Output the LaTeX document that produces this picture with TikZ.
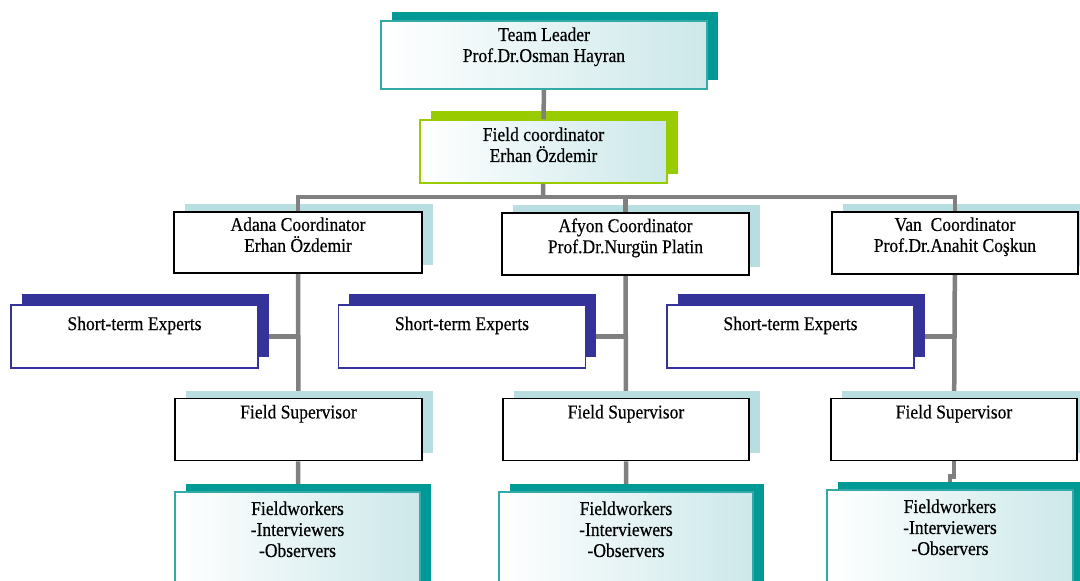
\documentclass[tikz,border=0pt]{standalone}
\usepackage{fontspec}
\setmainfont{Liberation Serif}[FakeStretch=0.9,FakeBold=0.4]
\usetikzlibrary{shadows,backgrounds,calc}

\definecolor{tealdark}{RGB}{0,153,150}
\definecolor{tealline}{RGB}{50,170,168}
\definecolor{limedark}{RGB}{153,204,0}
\definecolor{palecyan}{RGB}{188,224,227}
\definecolor{iceblue}{RGB}{185,222,225}
\definecolor{navyblue}{RGB}{51,51,153}
\definecolor{linkgray}{RGB}{128,128,128}

\begin{document}
\begin{tikzpicture}[x=1pt,y=-1pt,
  txt/.style={anchor=north,align=center,inner sep=0pt,font=\fontsize{19.5}{21}\selectfont},
  orgbox/.style={inner sep=0pt,minimum width=247pt,minimum height=62pt},
  leaderbox/.style={orgbox,draw=tealline,line width=1.5pt,left color=white,right color=palecyan!75,
    drop shadow={shadow xshift=11pt,shadow yshift=9pt,fill=tealdark,opacity=1}},
  fieldbox/.style={orgbox,draw=limedark,line width=1.5pt,left color=white,right color=palecyan!75,
    drop shadow={shadow xshift=11pt,shadow yshift=9pt,fill=limedark,opacity=1}},
  coordbox/.style={orgbox,draw=black,fill=white,line width=1.6pt,
    drop shadow={shadow xshift=11pt,shadow yshift=8pt,fill=iceblue,opacity=1}},
  expertbox/.style={orgbox,draw=navyblue,fill=white,line width=1.3pt,
    drop shadow={shadow xshift=10.5pt,shadow yshift=11pt,fill=navyblue,opacity=1}},
  workerbox/.style={orgbox,draw=tealline,line width=1.5pt,left color=white,right color=palecyan!75,minimum height=110pt,
    drop shadow={shadow xshift=11pt,shadow yshift=8pt,fill=tealdark,opacity=1}},
  link/.style={draw=linkgray,line width=4.5pt}]
\useasboundingbox (0,0) rectangle (1080,581);

% top of the chart
\node[leaderbox,minimum width=326pt,minimum height=68pt,
  label={[txt,yshift=-7pt]north:Team Leader\\Prof.Dr.Osman Hayran}] (leader) at (544,55) {};
\node[fieldbox,minimum height=63pt,
  label={[txt,yshift=-8pt]north:Field coordinator\\Erhan Özdemir}] (fieldco) at (543.5,151.5) {};

% city coordinators
\node[coordbox,minimum width=248pt,minimum height=61pt,
  label={[txt,yshift=-6pt]north:Adana Coordinator\\Erhan Özdemir}] (adana) at (298,242.5) {};
\node[coordbox,
  label={[txt,yshift=-6pt]north:Afyon Coordinator\\Prof.Dr.Nurgün Platin}] (afyon) at (625.5,244) {};
\node[coordbox,minimum width=246pt,
  label={[txt,yshift=-6pt]north:Van~ Coordinator\\Prof.Dr.Anahit Coşkun}] (van) at (955,243) {};

% short-term experts
\node[expertbox,minimum height=63pt,label={[txt,yshift=-12pt]north:Short-term Experts}] (adana_exp) at (134.5,336.5) {};
\node[expertbox,minimum height=63pt,label={[txt,yshift=-12pt]north:Short-term Experts}] (afyon_exp) at (462,336.5) {};
\node[expertbox,minimum height=63pt,label={[txt,yshift=-12pt]north:Short-term Experts}] (van_exp) at (790.5,336.5) {};

% field supervisors
\node[coordbox,label={[txt,yshift=-7pt]north:Field Supervisor}] (adana_sup) at (298.5,429.5) {};
\node[coordbox,minimum width=246pt,label={[txt,yshift=-7pt]north:Field Supervisor}] (afyon_sup) at (626,429.5) {};
\node[coordbox,minimum width=246pt,label={[txt,yshift=-7pt]north:Field Supervisor}] (van_sup) at (954,429.5) {};

% fieldworkers
\node[workerbox,minimum width=245pt,
  label={[txt,yshift=-10pt]north:Fieldworkers\\-Interviewers\\-Observers}] (adana_fw) at (297.5,547) {};
\node[workerbox,minimum width=254pt,
  label={[txt,yshift=-10pt]north:Fieldworkers\\-Interviewers\\-Observers}] (afyon_fw) at (626,547) {};
\node[workerbox,minimum width=246pt,
  label={[txt,yshift=-10pt]north:Fieldworkers\\-Interviewers\\-Observers}] (van_fw) at (950,545) {};

% connectors
\coordinate (bus) at (543,197);
\draw[link] (leader) -- (fieldco);
\draw[link] (fieldco) -- (bus);
\draw[link] (adana.north) |- (bus) -| (van.north);
\draw[link] (afyon.north) -- (afyon.north |- bus);
\begin{pgfonlayer}{background}
\draw[link] (adana) -- (adana_sup) -- (adana_fw);
\draw[link] (afyon) -- (afyon_sup) -- (afyon_fw);
\draw[link] (van) -- (van_sup);
\draw[link] (van_sup.south) -- ++(0,15) -| (van_fw.north);
\draw[link] (adana_exp.east) -- (adana_exp.east -| adana.south);
\draw[link] (afyon_exp.east) -- (afyon_exp.east -| afyon.south);
\draw[link] (van_exp.east) -- (van_exp.east -| van.south);
\end{pgfonlayer}
\end{tikzpicture}
\end{document}
